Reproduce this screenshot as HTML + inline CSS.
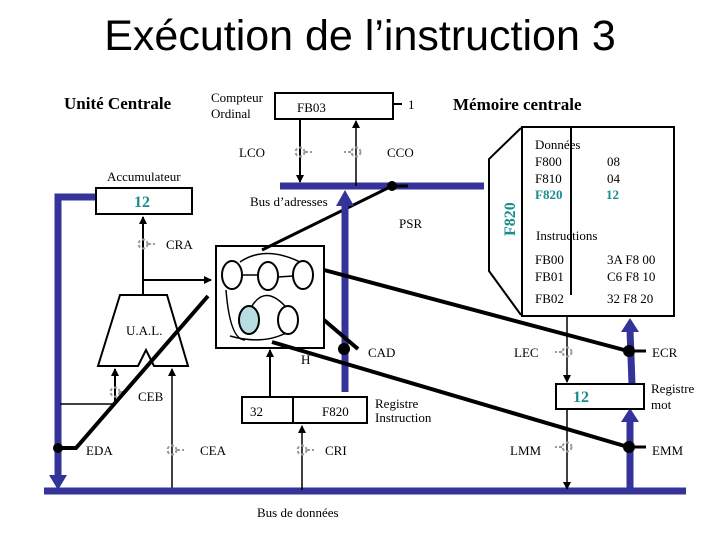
<!DOCTYPE html>
<html><head><meta charset="utf-8"><style>
body{margin:0;background:#fff}
svg{display:block}
text{font-family:"Liberation Serif",serif;font-size:13px;fill:#000}
</style></head><body>
<svg width="720" height="540" viewBox="0 0 720 540" xmlns="http://www.w3.org/2000/svg">
<defs>
<marker id="a" markerWidth="8" markerHeight="8" refX="7" refY="4" orient="auto" markerUnits="userSpaceOnUse"><path d="M0,0L8,4L0,8z" fill="#000"/></marker>
<g id="sw"><circle r="4.5" fill="none" stroke="#999" stroke-width="2" stroke-dasharray="3,2"/><line x1="-5" y1="0" x2="-12" y2="0" stroke="#999" stroke-width="2" stroke-dasharray="3,2"/></g>
<g id="swr"><circle r="4.5" fill="none" stroke="#999" stroke-width="2" stroke-dasharray="3,2"/><line x1="5" y1="0" x2="12" y2="0" stroke="#999" stroke-width="2" stroke-dasharray="3,2"/></g>
</defs>
<text x="360" y="50" text-anchor="middle" style="font-family:'Liberation Sans',sans-serif;font-size:43px">Exécution de l’instruction 3</text>
<text x="64" y="109" style="font-size:17px;font-weight:bold">Unité Centrale</text>
<text x="453" y="110" style="font-size:17px;font-weight:bold">Mémoire centrale</text>
<text x="211" y="102">Compteur</text><text x="211" y="118">Ordinal</text>
<rect x="275" y="93" width="118" height="26" fill="#fff" stroke="#000" stroke-width="2"/>
<text x="297" y="112">FB03</text>
<line x1="393" y1="104" x2="402" y2="104" stroke="#000" stroke-width="2"/><text x="408" y="109">1</text>
<!-- address bus -->
<line x1="280" y1="186" x2="484" y2="186" stroke="#333399" stroke-width="7"/>
<line x1="300" y1="119" x2="300" y2="182" stroke="#000" stroke-width="2" marker-end="url(#a)"/>
<line x1="356" y1="186" x2="356" y2="121" stroke="#000" stroke-width="1.5" marker-end="url(#a)"/>
<use href="#swr" x="300" y="152"/><use href="#sw" x="356" y="152"/>
<text x="239" y="157">LCO</text><text x="387" y="157">CCO</text>
<text x="250" y="206">Bus d’adresses</text>
<text x="399" y="228">PSR</text>
<!-- accumulator -->
<text x="107" y="181">Accumulateur</text>
<polyline points="96,197 58,197 58,478" fill="none" stroke="#333399" stroke-width="7"/>
<path d="M49,475L67,475L58,490z" fill="#333399"/>
<rect x="96" y="188" width="96" height="26" fill="#fff" stroke="#000" stroke-width="2"/>
<text x="134" y="207" style="font-size:16px;font-weight:bold;fill:#1a8c8c">12</text>
<line x1="143" y1="295" x2="143" y2="217" stroke="#000" stroke-width="2" marker-end="url(#a)"/>
<use href="#swr" x="143" y="244"/><text x="166" y="249">CRA</text>
<line x1="143" y1="280" x2="211" y2="280" stroke="#000" stroke-width="2" marker-end="url(#a)"/>
<!-- UAL -->
<path d="M120,295L167,295L188,366L154,366L146,350L138,366L98,366z" fill="#fff" stroke="#000" stroke-width="2"/>
<text x="126" y="335">U.A.L.</text>
<line x1="115" y1="404" x2="115" y2="369" stroke="#000" stroke-width="2" marker-end="url(#a)"/>
<line x1="60" y1="404" x2="115" y2="404" stroke="#000" stroke-width="1.5"/>
<use href="#swr" x="115" y="392"/><text x="138" y="401">CEB</text>
<line x1="172" y1="490" x2="172" y2="369" stroke="#000" stroke-width="1.5" marker-end="url(#a)"/>
<use href="#swr" x="172" y="450"/><text x="200" y="455">CEA</text>
<!-- EDA -->
<polyline points="58,448 76,448 208,296" fill="none" stroke="#000" stroke-width="4"/>
<circle cx="58" cy="448" r="5" fill="#000"/>
<text x="86" y="455">EDA</text>
<!-- data bus -->
<line x1="44" y1="491" x2="686" y2="491" stroke="#333399" stroke-width="7"/>
<text x="257" y="517">Bus de données</text>
<!-- state box -->
<rect x="216" y="246" width="108" height="102" fill="#fff" stroke="#000" stroke-width="2"/>
<g fill="#fff" stroke="#000" stroke-width="2">
<ellipse cx="232" cy="275" rx="10" ry="14"/><ellipse cx="268" cy="276" rx="10" ry="14"/><ellipse cx="303" cy="275" rx="10" ry="14"/>
<ellipse cx="249" cy="320" rx="10" ry="14" fill="#b8dde0"/><ellipse cx="288" cy="320" rx="10" ry="14"/>
</g>
<g fill="none" stroke="#000" stroke-width="1.5">
<path d="M242,275L258,275"/><path d="M278,277L293,276"/>
<path d="M240,262Q265,245 300,262"/>
<path d="M252,306Q265,285 285,306"/>
<path d="M245,340Q230,340 226,290"/>
<path d="M230,336Q262,345 286,333"/>
</g>
<!-- PSR line -->
<line x1="392" y1="186" x2="262" y2="250" stroke="#000" stroke-width="3"/>
<circle cx="392" cy="186" r="5" fill="#000"/><line x1="392" y1="186" x2="408" y2="186" stroke="#000" stroke-width="3"/>
<!-- blue vertical to RI -->
<line x1="345" y1="392" x2="345" y2="205" stroke="#333399" stroke-width="7"/>
<path d="M336,206L354,206L345,190z" fill="#333399"/>
<line x1="324" y1="320" x2="358" y2="349" stroke="#000" stroke-width="4"/>
<circle cx="344" cy="349" r="6" fill="#000"/>
<text x="368" y="357">CAD</text>
<text x="301" y="364">H</text>
<!-- long lines -->
<line x1="324" y1="270" x2="628" y2="351" stroke="#000" stroke-width="4"/>
<line x1="272" y1="342" x2="628" y2="447" stroke="#000" stroke-width="4"/>
<line x1="628" y1="351" x2="646" y2="351" stroke="#000" stroke-width="3"/>
<line x1="628" y1="447" x2="646" y2="447" stroke="#000" stroke-width="3"/>
<!-- RI -->
<line x1="270" y1="397" x2="270" y2="350" stroke="#000" stroke-width="2" marker-end="url(#a)"/>
<rect x="242" y="397" width="125" height="26" fill="#fff" stroke="#000" stroke-width="2"/>
<line x1="293" y1="397" x2="293" y2="423" stroke="#000" stroke-width="2"/>
<text x="250" y="416">32</text><text x="322" y="416">F820</text>
<text x="375" y="408">Registre</text><text x="375" y="422">Instruction</text>
<line x1="302" y1="490" x2="302" y2="426" stroke="#000" stroke-width="1.5" marker-end="url(#a)"/>
<use href="#swr" x="302" y="450"/><text x="325" y="455">CRI</text>
<!-- memory -->
<path d="M521,128L489,159L489,271L521,315" fill="none" stroke="#000" stroke-width="2"/>
<text transform="translate(515,236) rotate(-90)" style="font-size:16px;font-weight:bold;fill:#1a8c8c">F820</text>
<rect x="522" y="127" width="152" height="189" fill="#fff" stroke="#000" stroke-width="2"/>
<text x="535" y="149">Données</text>
<text x="535" y="166">F800</text><text x="607" y="166">08</text>
<text x="535" y="183">F810</text><text x="607" y="183">04</text>
<text x="535" y="199" style="font-weight:bold;fill:#1a8c8c">F820</text><text x="606" y="199" style="font-weight:bold;fill:#1a8c8c">12</text>
<text x="536" y="240">Instructions</text>
<text x="535" y="264">FB00</text><text x="607" y="264">3A F8 00</text>
<text x="535" y="281">FB01</text><text x="607" y="281">C6 F8 10</text>
<text x="535" y="303">FB02</text><text x="607" y="303">32 F8 20</text>
<line x1="571" y1="128" x2="571" y2="295" stroke="#000" stroke-width="2"/>
<!-- right side -->
<line x1="567" y1="316" x2="567" y2="382" stroke="#000" stroke-width="1.5" marker-end="url(#a)"/>
<line x1="567" y1="409" x2="567" y2="489" stroke="#000" stroke-width="1.5" marker-end="url(#a)"/>
<use href="#sw" x="567" y="352"/><text x="514" y="357">LEC</text>
<use href="#sw" x="567" y="447"/><text x="510" y="455">LMM</text>
<line x1="630" y1="488" x2="630" y2="420" stroke="#333399" stroke-width="7"/>
<path d="M621,422L639,422L630,408z" fill="#333399"/>
<line x1="632" y1="384" x2="630" y2="330" stroke="#333399" stroke-width="7"/>
<path d="M621,332L639,332L630,318z" fill="#333399"/>
<circle cx="629" cy="351" r="6" fill="#000"/><circle cx="629" cy="447" r="6" fill="#000"/>
<rect x="556" y="384" width="88" height="25" fill="#fff" stroke="#000" stroke-width="2"/>
<text x="573" y="402" style="font-size:16px;font-weight:bold;fill:#1a8c8c">12</text>
<text x="651" y="393">Registre</text><text x="651" y="409">mot</text>
<text x="652" y="357">ECR</text><text x="652" y="455">EMM</text>
</svg>
</body></html>
